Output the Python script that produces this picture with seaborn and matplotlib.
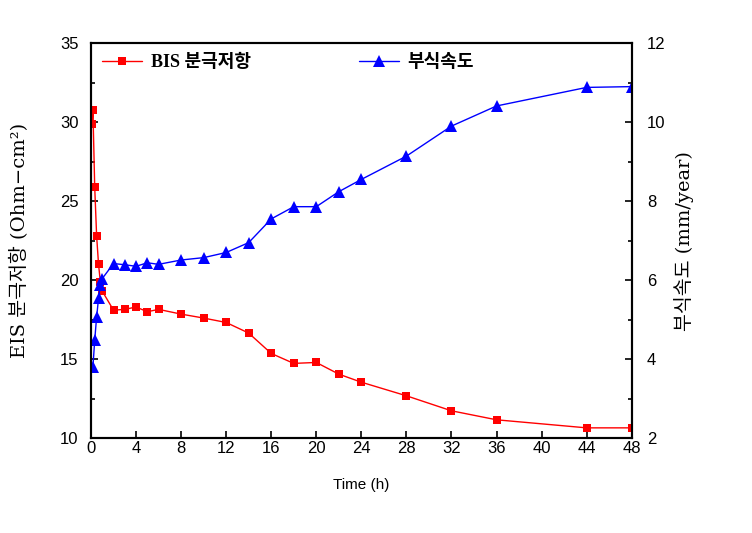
import numpy as np
import pandas as pd
import matplotlib
matplotlib.use("Agg")
import matplotlib.pyplot as plt
from matplotlib.ticker import MultipleLocator
import seaborn as sns

sns.set_style("ticks", {"axes.edgecolor": "black", "text.color": "black",
                        "xtick.color": "black", "ytick.color": "black",
                        "axes.labelcolor": "black"})
plt.rcParams["font.family"] = ["Liberation Sans", "Noto Sans CJK KR", "DejaVu Sans"]
plt.rcParams["xtick.direction"] = "in"
plt.rcParams["ytick.direction"] = "in"

# EIS polarization resistance (left axis)
eis_time = [0.1, 0.17, 0.33, 0.5, 0.67, 0.83, 1.0, 2, 3, 4, 5, 6, 8, 10, 12,
            14, 16, 18, 20, 22, 24, 28, 32, 36, 44, 48]
eis_res = [29.9, 30.8, 25.9, 22.8, 21.0, 19.9, 19.3, 18.1, 18.15, 18.3, 18.0,
           18.15, 17.85, 17.6, 17.32, 16.65, 15.36, 14.73, 14.79, 14.05, 13.54,
           12.68, 11.73, 11.16, 10.65, 10.65]

# corrosion rate (right axis)
cr_time = [0.17, 0.33, 0.5, 0.67, 0.83, 1.0, 2, 3, 4, 5, 6, 8, 10, 12, 14, 16,
           18, 20, 22, 24, 28, 32, 36, 44, 48]
cr_rate = [3.8, 4.48, 5.07, 5.54, 5.87, 6.04, 6.42, 6.39, 6.35, 6.44, 6.40,
           6.51, 6.57, 6.70, 6.95, 7.55, 7.86, 7.86, 8.24, 8.55, 9.14, 9.9,
           10.41, 10.88, 10.9]

df_eis = pd.DataFrame({"time": eis_time, "value": eis_res})
df_cr = pd.DataFrame({"time": cr_time, "value": cr_rate})

fig = plt.figure(figsize=(7.52, 5.33), dpi=100)
ax = fig.add_axes([0.121, 0.178, 0.719, 0.741])
ax2 = ax.twinx()

sns.lineplot(data=df_eis, x="time", y="value", ax=ax, color="#ff0000",
             marker="s", markersize=6, markeredgewidth=0, linewidth=1,
             label="BIS 분극저항", legend=False, sort=False)
sns.lineplot(data=df_cr, x="time", y="value", ax=ax2, color="#0000ff",
             marker="^", markersize=8, markeredgewidth=0, linewidth=1,
             label="부식속도", legend=False, sort=False)

ax.set_xlim(0, 48)
ax.set_ylim(10, 35)
ax2.set_ylim(2, 12)
ax.xaxis.set_major_locator(MultipleLocator(4))
ax.yaxis.set_major_locator(MultipleLocator(5))
ax.yaxis.set_minor_locator(MultipleLocator(2.5))
ax2.yaxis.set_major_locator(MultipleLocator(2))
ax2.yaxis.set_minor_locator(MultipleLocator(1))

for a in (ax, ax2):
    a.tick_params(which="major", length=5, width=1.2, labelsize=12)
    a.tick_params(which="minor", length=3, width=1.2)
    for s in a.spines.values():
        s.set_linewidth(1.5)
        s.set_color("black")
ax.tick_params(axis="x", pad=2)
ax.tick_params(axis="y", pad=9)
ax2.tick_params(axis="y", pad=11)

lab_font = ["DejaVu Serif", "Noto Sans CJK KR"]
ax.set_xlabel("Time (h)", fontsize=11, labelpad=16)
ax.set_ylabel("EIS 분극저항 (Ohm−cm²)", fontsize=14, family=lab_font,
              labelpad=22)
ax2.set_ylabel("부식속도 (mm/year)", fontsize=14, family=lab_font,
               labelpad=6)

h1, l1 = ax.get_legend_handles_labels()
h2, l2 = ax2.get_legend_handles_labels()
leg = ax.legend(h1 + h2, l1 + l2, loc="upper left", ncol=2, frameon=False,
                columnspacing=6, handlelength=2.2, handletextpad=0.5,
                borderaxespad=0.2, prop={"weight": "bold", "size": 13,
                "family": ["Liberation Serif", "Noto Sans CJK KR"]})

fig.savefig("out.png", dpi=100)
